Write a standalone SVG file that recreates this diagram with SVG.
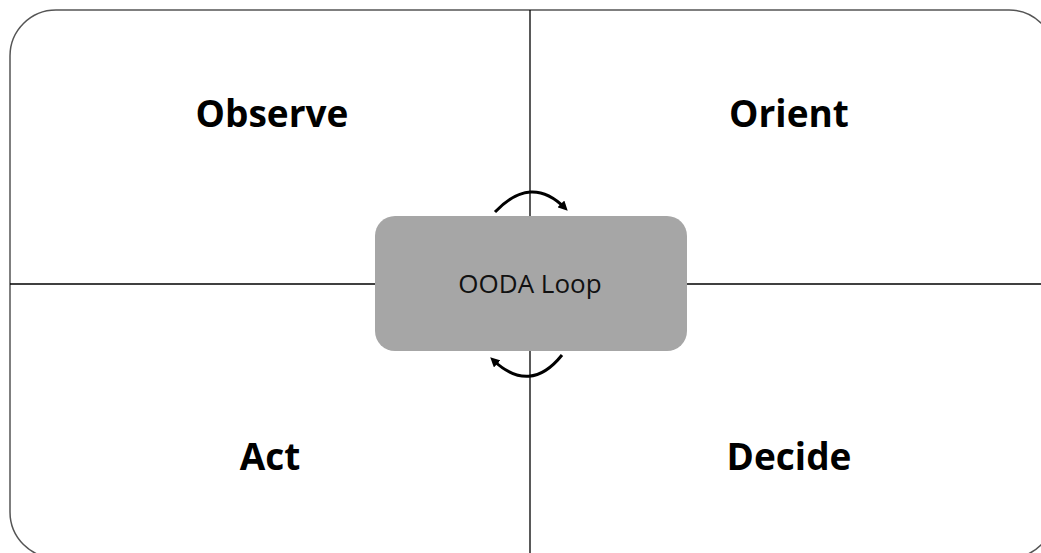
<svg xmlns="http://www.w3.org/2000/svg" width="1041" height="553" viewBox="0 0 1041 553">
<style>
.line{stroke:#000;stroke-width:1.3;fill:none}
.lbl{font-family:"Open Sans","Liberation Sans",sans-serif;font-weight:bold;font-size:37px;fill:#000;text-anchor:middle}
.arc{stroke:#000;stroke-width:3;fill:none}
</style>
<defs>
<marker id="ah" viewBox="0 0 10 10" refX="6" refY="5" markerWidth="3.2" markerHeight="3.2" orient="auto">
<path d="M0,0 L10,5 L0,10 z" fill="#000"/>
</marker>
</defs>
<rect x="10" y="10" width="1045" height="548" rx="46" fill="#fff" stroke="#555" stroke-width="1.5"/>
<g id="connectors">
<line class="line" x1="10" y1="284" x2="1041" y2="284"/>
<line class="line" x1="530" y1="10" x2="530" y2="553"/>
<path class="arc" d="M495,212 Q531,174 565,208" marker-end="url(#ah)"/>
<path class="arc" d="M562,355 Q530,395 493,360" marker-end="url(#ah)"/>
</g>
<g id="observe"><text class="lbl" x="272" y="127">Observe</text></g>
<g id="orient"><text class="lbl" x="789" y="127">Orient</text></g>
<g id="act"><text class="lbl" x="270" y="470">Act</text></g>
<g id="decide"><text class="lbl" x="789" y="470">Decide</text></g>
<g id="ooda">
<rect x="375" y="216" width="312" height="135" rx="20" fill="#a6a6a6"/>
<text x="530" y="293" font-family="'Open Sans','Liberation Sans',sans-serif" font-size="26" fill="#111" text-anchor="middle">OODA Loop</text>
</g>
</svg>
